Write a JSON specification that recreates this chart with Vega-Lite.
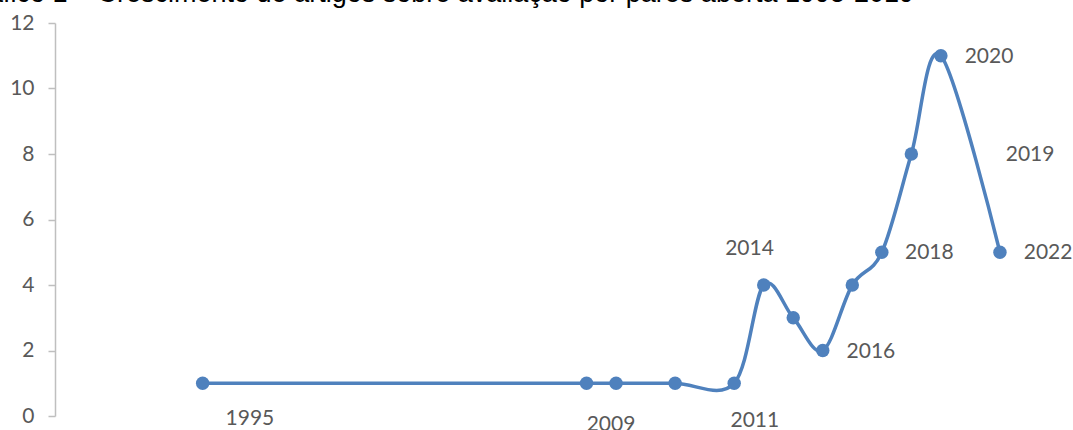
{
  "$schema": "https://vega.github.io/schema/vega-lite/v6.json",
  "autosize": {"type": "none"},
  "width": 1004,
  "height": 393,
  "padding": {"left": 55, "top": 23, "right": 14, "bottom": 14},
  "background": "white",
  "title": {
    "text": "Gráfico 1 – Crescimento de artigos sobre avaliação por pares aberta 1995-2019",
    "anchor": "start",
    "frame": "group",
    "font": "Liberation Sans",
    "fontSize": 27,
    "fontWeight": "normal",
    "color": "#000000",
    "baseline": "alphabetic",
    "offset": -17,
    "dx": -97
  },
  "config": {
    "view": {"stroke": null},
    "axis": {"grid": false}
  },
  "datasets": {
    "points": [
      {"year": 1995, "count": 1},
      {"year": 2008, "count": 1},
      {"year": 2009, "count": 1},
      {"year": 2011, "count": 1},
      {"year": 2013, "count": 1},
      {"year": 2014, "count": 4},
      {"year": 2015, "count": 3},
      {"year": 2016, "count": 2},
      {"year": 2017, "count": 4},
      {"year": 2018, "count": 5},
      {"year": 2019, "count": 8},
      {"year": 2020, "count": 11},
      {"year": 2022, "count": 5}
    ],
    "labels": [
      {"lx": 1996.60, "ly": -0.08, "label": "1995"},
      {"lx": 2008.83, "ly": -0.28, "label": "2009"},
      {"lx": 2013.70, "ly": -0.15, "label": "2011"},
      {"lx": 2013.52, "ly": 5.09, "label": "2014"},
      {"lx": 2017.63, "ly": 1.94, "label": "2016"},
      {"lx": 2019.61, "ly": 4.97, "label": "2018"},
      {"lx": 2021.63, "ly": 10.96, "label": "2020"},
      {"lx": 2023.02, "ly": 7.96, "label": "2019"},
      {"lx": 2023.63, "ly": 4.97, "label": "2022"}
    ]
  },
  "layer": [
    {
      "data": {"name": "points"},
      "mark": {"type": "line", "interpolate": "cardinal", "color": "#4F81BD", "strokeWidth": 3.5},
      "encoding": {
        "x": {"field": "year", "type": "quantitative", "scale": {"domain": [1990, 2024], "nice": false, "zero": false}, "axis": null},
        "y": {"field": "count", "type": "quantitative", "scale": {"domain": [0, 12], "nice": false},
          "axis": {"values": [0, 2, 4, 6, 8, 10, 12], "title": null, "domain": true, "domainColor": "#BFBFBF", "domainWidth": 1.5,
            "ticks": true, "tickColor": "#BFBFBF", "tickSize": 7, "tickWidth": 1.5,
            "labelFont": "Lato", "labelFontSize": 21, "labelColor": "#595959", "labelPadding": 14}}
      }
    },
    {
      "data": {"name": "points"},
      "mark": {"type": "point", "filled": true, "size": 180, "color": "#4F81BD", "opacity": 1},
      "encoding": {
        "x": {"field": "year", "type": "quantitative"},
        "y": {"field": "count", "type": "quantitative"}
      }
    },
    {
      "data": {"name": "labels"},
      "mark": {"type": "text", "font": "Lato", "fontSize": 21, "color": "#595959", "align": "center", "baseline": "middle"},
      "encoding": {
        "x": {"field": "lx", "type": "quantitative"},
        "y": {"field": "ly", "type": "quantitative"},
        "text": {"field": "label"}
      }
    }
  ]
}
